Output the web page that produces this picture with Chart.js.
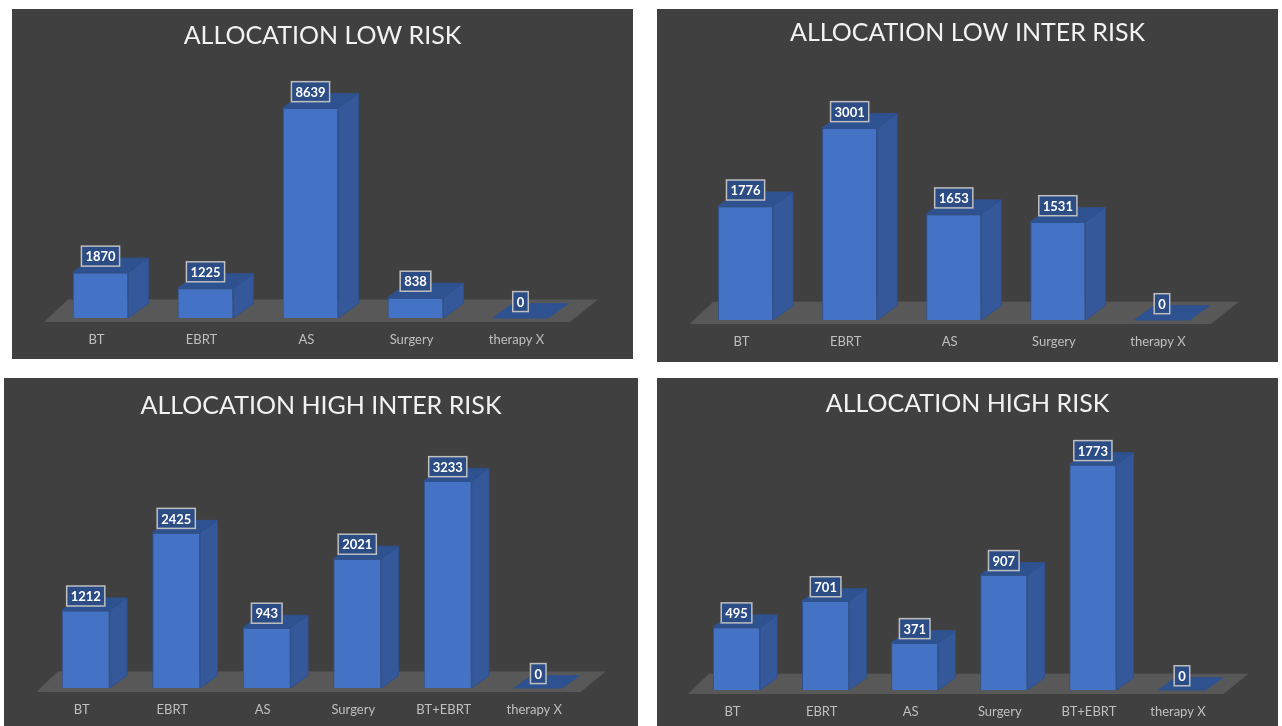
<!DOCTYPE html>
<html>
<head>
<meta charset="utf-8">
<script src="https://cdn.jsdelivr.net/npm/chart.js@4.4.0/dist/chart.umd.min.js"></script>
<style>
  body { margin: 0; background: #fff; width: 1282px; height: 726px; overflow: hidden; position: relative; }
  .panel { position: absolute; background: #404040; }
</style>
</head>
<body>
<div class="panel" style="left:12px;top:9px;width:621px;height:350px"><canvas id="c1"></canvas></div>
<div class="panel" style="left:657px;top:9px;width:621px;height:353px"><canvas id="c2"></canvas></div>
<div class="panel" style="left:4px;top:378px;width:634px;height:348px"><canvas id="c3"></canvas></div>
<div class="panel" style="left:657px;top:378px;width:621px;height:348px"><canvas id="c4"></canvas></div>
<script>
// categories
var labels5 = ['BT', 'EBRT', 'AS', 'Surgery', 'therapy X'];
var labels6 = ['BT', 'EBRT', 'AS', 'Surgery', 'BT+EBRT', 'therapy X'];

// values per risk group
var lowRisk = [1870, 1225, 8639, 838, 0];
var lowInterRisk = [1776, 3001, 1653, 1531, 0];
var highInterRisk = [1212, 2425, 943, 2021, 3233, 0];
var highRisk = [495, 701, 371, 907, 1773, 0];

var FONT = 'Lato';

// fake 3d: floor under the bars, then side + top faces, value boxes and the title
var bar3d = {
  id: 'bar3d',
  beforeDatasetsDraw: function (chart) {
    var ctx = chart.ctx, a = chart.chartArea;
    var w = chart.getDatasetMeta(0).data[0].width;
    var dx = w * 0.36, dy = dx * 0.72;
    ctx.save();
    ctx.fillStyle = '#585858';
    ctx.beginPath();
    ctx.moveTo(a.left - 4, a.bottom + 4);
    ctx.lineTo(a.right - 3, a.bottom + 4);
    ctx.lineTo(a.right + dx + 5, a.bottom - dy - 4);
    ctx.lineTo(a.left + dx, a.bottom - dy - 4);
    ctx.closePath();
    ctx.fill();
    ctx.restore();
  },
  afterDatasetsDraw: function (chart) {
    var ctx = chart.ctx;
    var meta = chart.getDatasetMeta(0);
    var values = chart.data.datasets[0].data;
    function poly(pts, fill) {
      ctx.beginPath();
      ctx.moveTo(pts[0][0], pts[0][1]);
      for (var k = 1; k < pts.length; k++) ctx.lineTo(pts[k][0], pts[k][1]);
      ctx.closePath();
      ctx.fillStyle = fill;
      ctx.fill();
      ctx.strokeStyle = '#2F528F';
      ctx.lineWidth = 1;
      ctx.stroke();
    }
    ctx.save();
    meta.data.forEach(function (bar) {
      var w = bar.width, dx = w * 0.36, dy = dx * 0.72;
      var x0 = bar.x - w / 2, x1 = bar.x + w / 2, y = bar.y, base = bar.base;
      if (base - y > 0.5) {
        poly([[x1, y], [x1 + dx, y - dy], [x1 + dx, base - dy], [x1, base]], '#35589A');
      }
      poly([[x0, y], [x1, y], [x1 + dx, y - dy], [x0 + dx, y - dy]], '#2E5190');
    });
    ctx.font = 'bold 13px ' + FONT;
    ctx.textAlign = 'center';
    ctx.textBaseline = 'middle';
    meta.data.forEach(function (bar, i) {
      var dy = bar.width * 0.36 * 0.72;
      var txt = String(values[i]);
      var bw = ctx.measureText(txt).width + 8, bh = 20;
      var cx = bar.x, cy = bar.y - dy - 2;
      ctx.fillStyle = '#2C4C85';
      ctx.fillRect(cx - bw / 2, cy - bh / 2, bw, bh);
      ctx.strokeStyle = '#BFBFBF';
      ctx.lineWidth = 1.5;
      ctx.strokeRect(cx - bw / 2, cy - bh / 2, bw, bh);
      ctx.fillStyle = '#ffffff';
      ctx.fillText(txt, cx, cy + 1);
    });
    ctx.restore();
  },
  afterDraw: function (chart, args, opts) {
    // title centred on the whole panel, not on the plot area
    var ctx = chart.ctx;
    ctx.save();
    ctx.font = '25px ' + FONT;
    ctx.fillStyle = '#F2F2F2';
    ctx.textAlign = 'center';
    ctx.textBaseline = 'alphabetic';
    ctx.fillText(opts.title, chart.width / 2, opts.baseline);
    ctx.restore();
  }
};

function makeChart(id, title, labels, values, yMax, box) {
  var el = document.getElementById(id);
  var H = el.parentNode.clientHeight, W = el.parentNode.clientWidth;
  return new Chart(el, {
    type: 'bar',
    data: {
      labels: labels,
      datasets: [{
        data: values,
        backgroundColor: '#4472C4',
        borderColor: '#2F528F',
        borderWidth: 1,
        barPercentage: 0.53,
        categoryPercentage: 1
      }]
    },
    options: {
      responsive: true,
      maintainAspectRatio: false,
      animation: false,
      layout: { padding: { left: box.left, right: W - box.right, top: box.top, bottom: 0 } },
      plugins: {
        legend: { display: false },
        tooltip: { enabled: false },
        title: { display: false },
        bar3d: { title: title, baseline: box.titleBase }
      },
      scales: {
        x: {
          grid: { display: false, drawTicks: false },
          border: { display: false },
          ticks: { color: '#BFBFBF', font: { family: FONT, size: 13 }, padding: 14, labelOffset: -4 },
          afterFit: function (axis) { axis.height = H - box.bottom; }
        },
        y: { display: false, min: 0, max: yMax }
      }
    },
    plugins: [bar3d]
  });
}

makeChart('c1', 'ALLOCATION LOW RISK', labels5, lowRisk, 10000,
  { left: 36, right: 561, top: 66, bottom: 309, titleBase: 35 });
makeChart('c2', 'ALLOCATION LOW INTER RISK', labels5, lowInterRisk, 4000,
  { left: 36.5, right: 557, top: 55, bottom: 311, titleBase: 32 });
makeChart('c3', 'ALLOCATION HIGH INTER RISK', labels6, highInterRisk, 4000,
  { left: 36.5, right: 579.5, top: 54, bottom: 310, titleBase: 35.5 });
makeChart('c4', 'ALLOCATION HIGH RISK', labels6, highRisk, 2000,
  { left: 35, right: 569.5, top: 58, bottom: 312, titleBase: 33.5 });
</script>
</body>
</html>
